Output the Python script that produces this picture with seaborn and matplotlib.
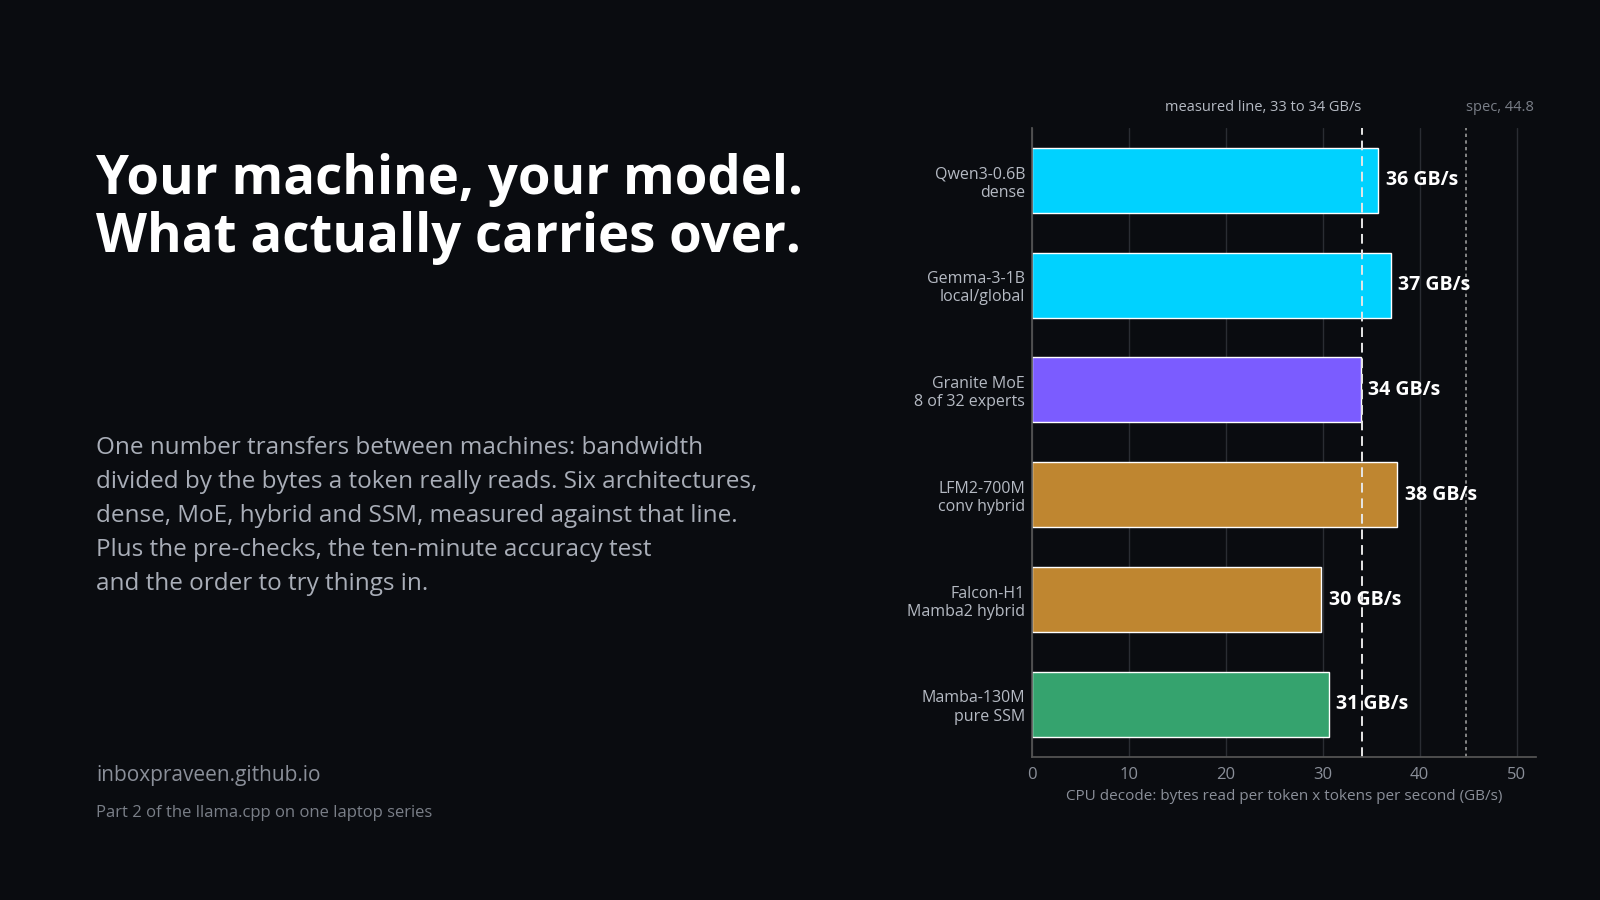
import matplotlib
matplotlib.use("Agg")
import matplotlib.pyplot as plt
import seaborn as sns
import pandas as pd

models = ["Qwen3-0.6B\ndense", "Gemma-3-1B\nlocal/global", "Granite MoE\n8 of 32 experts",
          "LFM2-700M\nconv hybrid", "Falcon-H1\nMamba2 hybrid", "Mamba-130M\npure SSM"]
values = [35.7, 37.0, 33.9, 37.7, 29.8, 30.6]
labels = ["36 GB/s", "37 GB/s", "34 GB/s", "38 GB/s", "30 GB/s", "31 GB/s"]
colors = ["#00D2FF", "#00D2FF", "#7B5CFF", "#BF8630", "#BF8630", "#35A36E"]
measured = 34.0
spec = 44.8

bg = "#0A0C10"
sns.set_theme(style="dark")
plt.rcParams['font.family'] = ['Open Sans', 'DejaVu Sans']

fig = plt.figure(figsize=(16, 9), dpi=100, facecolor=bg)
ax = fig.add_axes([0.645, 0.159, 0.315, 0.699], facecolor=bg)
df = pd.DataFrame({"model": models, "value": values})
sns.barplot(data=df, x="value", y="model", hue="model", palette=colors, legend=False,
            width=0.62, ax=ax, saturation=1)
ax.set_xlim(0, 52)
ax.set_xticks([0, 10, 20, 30, 40, 50])
ax.grid(axis="x", color="#2A2D33", lw=1)
ax.grid(axis="y", visible=False)
ax.set_axisbelow(True)
for s in ["top", "right"]:
    ax.spines[s].set_visible(False)
ax.spines["left"].set_color("#555")
ax.spines["bottom"].set_color("#555")
ax.tick_params(axis="x", colors="#8A8F99", labelsize=12, length=4, color="#555")
ax.tick_params(axis="y", colors="#B5BAC3", labelsize=11.5, length=0, pad=5)
for t in ax.get_yticklabels():
    t.set_horizontalalignment("right")
ax.set_ylabel("")
ax.set_xlabel("CPU decode: bytes read per token x tokens per second (GB/s)", color="#8A8F99", fontsize=11)
ax.axvline(measured, color="#E6E6E6", ls=(0, (5, 3)), lw=1.4)
ax.axvline(spec, color="#9A9A9A", ls=(0, (2, 2)), lw=1.2)
ax.text(measured, 1.02, "measured line, 33 to 34 GB/s", transform=ax.get_xaxis_transform(),
        ha="right", va="bottom", color="#B5BAC3", fontsize=10.5)
ax.text(51.8, 1.02, "spec, 44.8", transform=ax.get_xaxis_transform(),
        ha="right", va="bottom", color="#7A7F88", fontsize=10.5)
for i, (v, l) in enumerate(zip(values, labels)):
    ax.text(v + 0.8, i, l, va="center", ha="left", color="white", fontsize=14, fontweight="bold")

fig.text(0.06, 0.83, "Your machine, your model.\nWhat actually carries over.", color="white",
         fontsize=38, fontweight="bold", va="top", linespacing=1.1)
fig.text(0.06, 0.515, "One number transfers between machines: bandwidth\n"
         "divided by the bytes a token really reads. Six architectures,\n"
         "dense, MoE, hybrid and SSM, measured against that line.\n"
         "Plus the pre-checks, the ten-minute accuracy test\n"
         "and the order to try things in.", color="#A9AEB8", fontsize=17.5,
         va="top", linespacing=1.55)
fig.text(0.06, 0.138, "inboxpraveen.github.io", color="#8A8F99", fontsize=15, va="center")
fig.text(0.06, 0.097, "Part 2 of the llama.cpp on one laptop series", color="#7A7F88", fontsize=12, va="center")
fig.savefig("out.png", facecolor=bg)
